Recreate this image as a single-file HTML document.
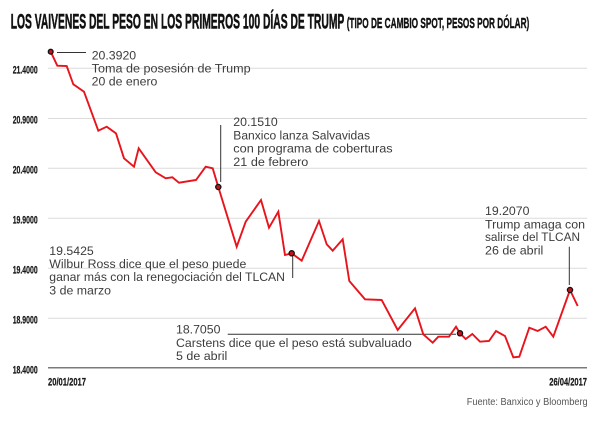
<!DOCTYPE html>
<html><head><meta charset="utf-8"><style>
html,body{margin:0;padding:0;background:#fff;}
svg{display:block;}
.yl{font-family:"Liberation Sans",sans-serif;font-weight:bold;font-size:11px;fill:#1a1a1a;stroke:#1a1a1a;stroke-width:0.25;}
.an{font-family:"Liberation Sans",sans-serif;font-size:12.3px;fill:#3c3c3c;}
</style></head><body>
<svg width="600" height="423" viewBox="0 0 600 423" xmlns="http://www.w3.org/2000/svg">
<rect width="600" height="423" fill="#fff"/>
<text x="10.7" y="28.4" font-family="Liberation Sans, sans-serif" font-weight="bold" font-size="21.5" fill="#111" stroke="#111" stroke-width="0.6" textLength="333.6" lengthAdjust="spacingAndGlyphs">LOS VAIVENES DEL PESO EN LOS PRIMEROS 100 DÍAS DE TRUMP</text>
<text x="346.7" y="28" font-family="Liberation Sans, sans-serif" font-weight="bold" font-size="14.4" fill="#111" stroke="#111" stroke-width="0.4" textLength="182.6" lengthAdjust="spacingAndGlyphs">(TIPO DE CAMBIO SPOT, PESOS POR DÓLAR)</text>
<g stroke="#dcdcdc" stroke-width="1">
<line x1="48" y1="68.3" x2="587" y2="68.3"/>
<line x1="48" y1="118.5" x2="587" y2="118.5"/>
<line x1="48" y1="168.3" x2="587" y2="168.3"/>
<line x1="48" y1="218.3" x2="587" y2="218.3"/>
<line x1="48" y1="268.3" x2="587" y2="268.3"/>
<line x1="48" y1="318.3" x2="587" y2="318.3"/>
</g>
<line x1="48" y1="367.7" x2="587" y2="367.7" stroke="#7a7a7a" stroke-width="1.5"/>
<text class="yl" x="12.7" y="73.6" textLength="25" lengthAdjust="spacingAndGlyphs">21.4000</text>
<text class="yl" x="12.7" y="123.6" textLength="25" lengthAdjust="spacingAndGlyphs">20.9000</text>
<text class="yl" x="12.7" y="173.6" textLength="25" lengthAdjust="spacingAndGlyphs">20.4000</text>
<text class="yl" x="12.7" y="223.4" textLength="25" lengthAdjust="spacingAndGlyphs">19.9000</text>
<text class="yl" x="12.7" y="273.4" textLength="25" lengthAdjust="spacingAndGlyphs">19.4000</text>
<text class="yl" x="12.7" y="323.4" textLength="25" lengthAdjust="spacingAndGlyphs">18.9000</text>
<text class="yl" x="12.7" y="373.3" textLength="25" lengthAdjust="spacingAndGlyphs">18.4000</text>
<text class="yl" x="48" y="385.5" textLength="38" lengthAdjust="spacingAndGlyphs">20/01/2017</text>
<text class="yl" x="549.3" y="385.5" textLength="37.7" lengthAdjust="spacingAndGlyphs">26/04/2017</text>
<text x="466.7" y="405" font-family="Liberation Sans, sans-serif" font-size="10" fill="#555" textLength="121" lengthAdjust="spacingAndGlyphs">Fuente: Banxico y Bloomberg</text>
<g stroke="#333" stroke-width="1">
<line x1="57" y1="52.5" x2="86" y2="52.5"/>
<line x1="220.7" y1="125" x2="220.7" y2="182"/>
<line x1="292.7" y1="256" x2="292.7" y2="278"/>
<line x1="227.7" y1="334.2" x2="456" y2="334.2"/>
<line x1="569.3" y1="246.7" x2="569.3" y2="285"/>
</g>
<text class="an" x="91.7" y="59.3">20.3920</text>
<text class="an" x="91.7" y="72.4" textLength="159" lengthAdjust="spacingAndGlyphs">Toma de posesión de Trump</text>
<text class="an" x="91.7" y="85.5" textLength="65.7" lengthAdjust="spacingAndGlyphs">20 de enero</text>

<text class="an" x="233.3" y="126">20.1510</text>
<text class="an" x="233.3" y="139.3" textLength="136.7" lengthAdjust="spacingAndGlyphs">Banxico lanza Salvavidas</text>
<text class="an" x="233.3" y="152.7" textLength="159.3" lengthAdjust="spacingAndGlyphs">con programa de coberturas</text>
<text class="an" x="233.3" y="166" textLength="75" lengthAdjust="spacingAndGlyphs">21 de febrero</text>

<text class="an" x="49.3" y="255">19.5425</text>
<text class="an" x="49.3" y="268" textLength="197" lengthAdjust="spacingAndGlyphs">Wilbur Ross dice que el peso puede</text>
<text class="an" x="49.3" y="281.2" textLength="235.7" lengthAdjust="spacingAndGlyphs">ganar más con la renegociación del TLCAN</text>
<text class="an" x="49.3" y="294.4" textLength="61.7" lengthAdjust="spacingAndGlyphs">3 de marzo</text>

<text class="an" x="176" y="333.5">18.7050</text>
<text class="an" x="176" y="347" textLength="235.7" lengthAdjust="spacingAndGlyphs">Carstens dice que el peso está subvaluado</text>
<text class="an" x="176" y="359.8" textLength="51.3" lengthAdjust="spacingAndGlyphs">5 de abril</text>

<text class="an" x="485" y="215">19.2070</text>
<text class="an" x="485" y="228.3" textLength="100" lengthAdjust="spacingAndGlyphs">Trump amaga con</text>
<text class="an" x="485" y="241.2" textLength="95" lengthAdjust="spacingAndGlyphs">salirse del TLCAN</text>
<text class="an" x="485" y="254.4" textLength="58.3" lengthAdjust="spacingAndGlyphs">26 de abril</text>

<polyline fill="none" stroke="#e8141c" stroke-width="1.9" stroke-linejoin="miter" points="50.7,51.7 57.3,65.7 66.7,66 73.3,84.3 84,91.7 98.3,130.7 106.7,126.7 116,133.3 124,158.3 134,166.7 138.7,148.3 155.7,172.3 165.7,178.3 172.3,177.3 179,182.7 196,180 205.7,166.7 212.7,168.3 218.3,187 236.7,246.7 245.7,221.7 261,200 269,227.7 278.3,211.7 285,255 291.7,253.3 301.7,260.7 319,221 326.7,244.3 332.7,250.7 342.7,239.3 349.3,281 365,299.3 381.7,300 397.7,330 415,308.3 423.3,334.3 432.7,342.7 438.3,336.7 449,336.7 456,326.7 460,333.3 465.7,339 472.3,334 480,341.7 489,341 496,331 505,336 513.3,357.3 519.3,356.7 529.3,327.7 537.7,331 545.7,326.7 553.3,336.7 570,290 577.7,306"/>
<g fill="#c0141a" stroke="#111" stroke-width="1.3">
<circle cx="50.7" cy="51.7" r="2.4"/>
<circle cx="218.3" cy="187" r="2.6"/>
<circle cx="291.7" cy="253.3" r="2.6"/>
<circle cx="460" cy="333.3" r="2.6"/>
<circle cx="570" cy="290" r="2.6"/>
</g>
</svg>
</body></html>
